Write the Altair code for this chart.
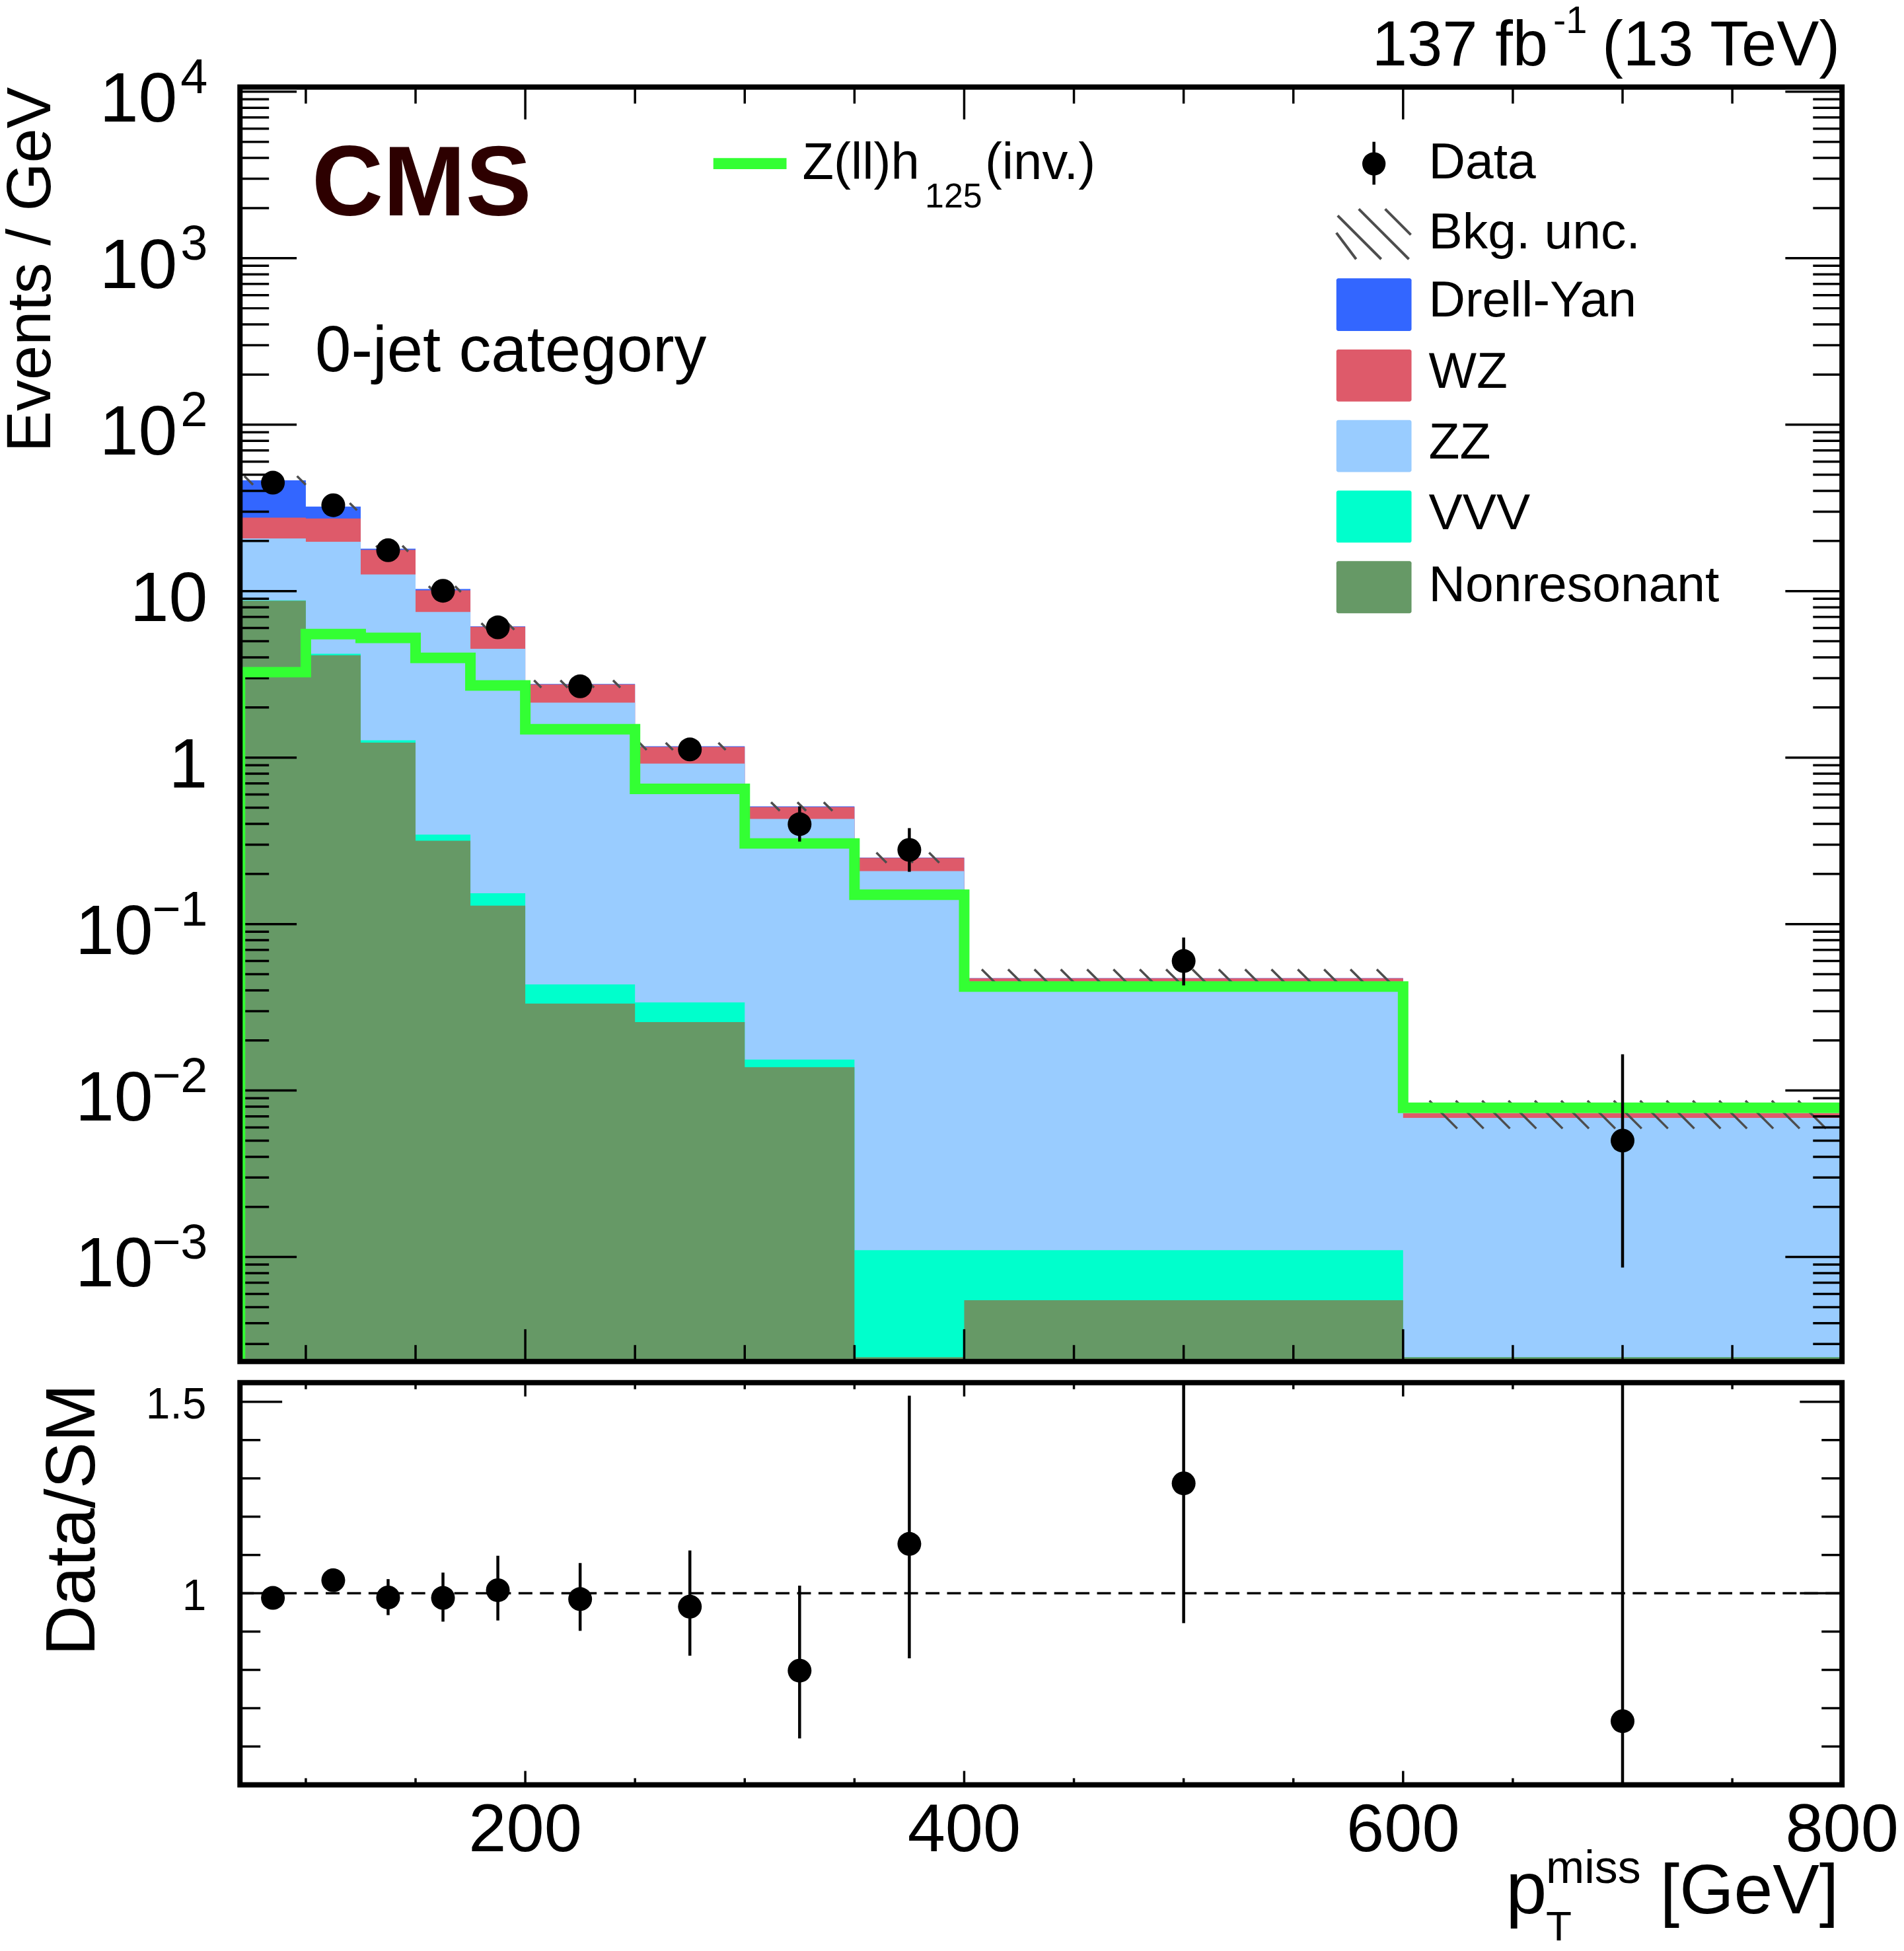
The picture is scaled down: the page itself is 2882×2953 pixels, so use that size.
import altair as alt
import numpy as np
import pandas as pd

# ---------------- values (events / GeV) ----------------
bin_edges = [70, 100, 125, 150, 175, 200, 250, 300, 350, 400, 600, 800]

nonres    = [8.75, 4.12, 1.23, 0.317, 0.129, 0.0333, 0.0258, 0.0138, 0.00025, 0.00055, 0.00025]
vvv       = [0.05, 0.09, 0.04, 0.028, 0.024, 0.0101, 0.0080, 0.00155, 0.00085, 0.00055, 0.0]
zz        = [11.9, 15.59, 11.33, 7.155, 4.347, 2.097, 0.886, 0.4126, 0.2069, 0.0440, 0.0066]
wz        = [6.9, 7.5, 5.1, 2.6, 1.6, 0.61, 0.24, 0.077, 0.042, 0.0021, 0.00045]
drell_yan = [18.7, 4.9, 0.3, 0.2, 0.04, 0.02, 0.01, 0.004, 0.001, 0.0001, 0.0]
bkg_unc_rel = [0.06, 0.05, 0.04, 0.04, 0.045, 0.05, 0.05, 0.06, 0.07, 0.13, 0.19]
signal = [3.26, 5.52, 5.24, 3.97, 2.71, 1.48, 0.649, 0.305, 0.150, 0.0421, 0.00787]

data_val = [44.8, 32.8, 17.6, 10.05, 6.06, 2.68, 1.12, 0.398, 0.279, 0.0600, 0.00500]
data_lo  = [43.3, 31.6, 16.8, 9.4, 5.6, 2.47, 0.98, 0.313, 0.206, 0.0428, 0.000864]
data_hi  = [46.3, 34.0, 18.4, 10.7, 6.6, 2.90, 1.27, 0.509, 0.377, 0.0830, 0.0165]

ratio_val = [0.988, 1.034, 0.989, 0.988, 1.008, 0.985, 0.965, 0.798, 1.129, 1.287, 0.666]
ratio_lo  = [0.960, 1.006, 0.943, 0.926, 0.929, 0.902, 0.837, 0.621, 0.830, 0.922, 0.12]
ratio_hi  = [1.016, 1.062, 1.037, 1.054, 1.098, 1.079, 1.112, 1.020, 1.516, 1.75, 2.26]

y_tick_values = [1e4, 1e3, 1e2, 10, 1, 0.1, 0.01, 0.001]
y_tick_base   = ["10", "10", "10", "10", "1", "10", "10", "10"]
y_tick_exp    = ["4", "3", "2", "", "", "\u22121", "\u22122", "\u22123"]
ratio_tick_values = [1.5, 1.0]
ratio_tick_labels = ["1.5", "1"]
x_tick_values = [200, 400, 600, 800]
x_tick_labels = ["200", "400", "600", "800"]

legend_labels = ["Drell-Yan", "WZ", "ZZ", "VVV", "Nonresonant"]
C_DY, C_WZ, C_ZZ, C_VVV, C_NR = "#3366ff", "#de5a6a", "#99ccff", "#00ffcc", "#669966"
legend_colors = [C_DY, C_WZ, C_ZZ, C_VVV, C_NR]
C_SIG = "#33ff33"
C_HATCH = "#4d4d4d"

# ---------------- layout ----------------
W, H_TOP, R_TOP, R_BOT = 2430, 1933, 1965, 2575
X_MIN, X_MAX = 70, 800
Y_MIN, Y_MAX = 2.356e-4, 1.066e4
R_MIN, R_MAX = 0.5, 1.55
FONT = "Liberation Sans"

xs = alt.Scale(domain=[X_MIN, X_MAX], nice=False, zero=False)
ys = alt.Scale(type="log", domain=[Y_MIN, Y_MAX], range=[H_TOP, 0], nice=False)
rs = alt.Scale(domain=[R_MIN, R_MAX], range=[R_BOT, R_TOP], nice=False, zero=False)

ONE = alt.Data(values=[{"a": 1}])


def vrule(x1, x2, y1, y2, color="black", width=3.5):
    return alt.Chart(ONE).mark_rule(color=color, strokeWidth=width, strokeCap="butt").encode(
        x=alt.value(x1), x2=alt.value(x2), y=alt.value(y1), y2=alt.value(y2))


def vtext(s, x, y, size, align="left", angle=0, weight="normal", color="black"):
    kw = dict(text=s, fontSize=size, font=FONT, align=align, baseline="alphabetic",
              color=color, fontWeight=weight)
    if angle:
        kw["angle"] = angle
    return alt.Chart(ONE).mark_text(**kw).encode(x=alt.value(x), y=alt.value(y))


centers = [(a + b) / 2 for a, b in zip(bin_edges[:-1], bin_edges[1:])]

# ---------------- top panel ----------------
comps = np.array([nonres, vvv, zz, wz, drell_yan])
cum = np.cumsum(comps, axis=0)
total = cum[4]
levels = [(cum[4], C_DY), (cum[3], C_WZ), (cum[2], C_ZZ), (cum[1], C_VVV), (cum[0], C_NR)]

top_layers = []
for vals, col in levels:
    df = pd.DataFrame({"x": bin_edges, "y": list(vals) + [vals[-1]], "floor": Y_MIN})
    top_layers.append(
        alt.Chart(df).mark_area(interpolate="step-after", color=col, clip=True, opacity=1).encode(
            x=alt.X("x:Q", scale=xs, axis=None),
            y=alt.Y("y:Q", scale=ys, axis=None),
            y2=alt.Y2("floor:Q")))

# hatched background-uncertainty band
decade_px = H_TOP / np.log10(Y_MAX / Y_MIN)
px_per_gev = W / (X_MAX - X_MIN)
spacing = 12.0
hatch = []
for i in range(len(total)):
    hi = total[i] * (1 + bkg_unc_rel[i])
    lo = total[i] * (1 - bkg_unc_rel[i])
    dx = (np.log10(hi) - np.log10(lo)) * decade_px / px_per_gev
    xx = np.ceil((bin_edges[i] + 1) / spacing) * spacing
    while xx + dx <= bin_edges[i + 1]:
        hatch.append({"x1": xx, "x2": xx + dx, "y1": hi, "y2": lo})
        xx += spacing
hatch_df = pd.DataFrame(hatch)
top_layers.append(
    alt.Chart(hatch_df).mark_rule(color=C_HATCH, strokeWidth=3.5, clip=True).encode(
        x=alt.X("x1:Q", scale=xs, axis=None), x2="x2:Q",
        y=alt.Y("y1:Q", scale=ys, axis=None), y2="y2:Q"))

# y ticks (log)
y_major = [10.0 ** k for k in range(-3, 5)]
y_minor = [m * 10.0 ** k for k in range(-4, 4) for m in range(2, 10) if Y_MIN <= m * 10.0 ** k <= Y_MAX]


def yticks(vals, scale, length, side):
    df = pd.DataFrame({"v": vals})
    x1, x2 = (0, length) if side == "left" else (W - length, W)
    return alt.Chart(df).mark_rule(color="black", strokeWidth=3.5).encode(
        y=alt.Y("v:Q", scale=scale, axis=None), x=alt.value(x1), x2=alt.value(x2))


for side in ("left", "right"):
    top_layers.append(yticks(y_major, ys, 86, side))
    top_layers.append(yticks(y_minor, ys, 44, side))

# y tick labels with superscripts
tl = pd.DataFrame({"v": y_tick_values, "base": y_tick_base, "exp": y_tick_exp})
tl["kind"] = ["neg" if e.startswith("\u2212") else ("pos" if e else "none") for e in y_tick_exp]
for kind, xpos in (("pos", -95), ("neg", -132), ("none", -49)):
    top_layers.append(
        alt.Chart(tl).transform_filter(alt.datum.kind == kind).mark_text(
            font=FONT, fontSize=106, align="right", baseline="alphabetic", dy=45).encode(
            y=alt.Y("v:Q", scale=ys, axis=None), x=alt.value(xpos), text="base:N"))
top_layers.append(
    alt.Chart(tl).transform_filter(alt.datum.exp != "").mark_text(
        font=FONT, fontSize=74, align="right", baseline="alphabetic", dy=2).encode(
        y=alt.Y("v:Q", scale=ys, axis=None), x=alt.value(-49), text="exp:N"))

# signal step line
sig_df = pd.DataFrame({
    "i": list(range(len(bin_edges) + 1)),
    "x": [bin_edges[0]] + bin_edges,
    "y": [Y_MIN] + signal + [signal[-1]],
})
top_layers.append(
    alt.Chart(sig_df).mark_line(interpolate="step-after", color=C_SIG, strokeWidth=16,
                                clip=True, strokeJoin="miter", strokeCap="butt").encode(
        x=alt.X("x:Q", scale=xs, axis=None), y=alt.Y("y:Q", scale=ys, axis=None), order="i:Q"))

# data points
data_df = pd.DataFrame({"x": centers, "y": data_val, "lo": data_lo, "hi": data_hi})
top_layers.append(
    alt.Chart(data_df).mark_rule(color="black", strokeWidth=4.5).encode(
        x=alt.X("x:Q", scale=xs, axis=None), y=alt.Y("lo:Q", scale=ys, axis=None), y2="hi:Q"))
top_layers.append(
    alt.Chart(data_df).mark_point(shape="circle", filled=True, size=1300, color="black", opacity=1).encode(
        x=alt.X("x:Q", scale=xs, axis=None), y=alt.Y("y:Q", scale=ys, axis=None)))

top = alt.layer(*top_layers)

# ---------------- ratio panel ----------------
ratio_layers = []
r_major = [1.0, 1.5]
r_minor = [0.6, 0.7, 0.8, 0.9, 1.1, 1.2, 1.3, 1.4]
for side in ("left", "right"):
    ratio_layers.append(yticks(r_major, rs, 64, side))
    ratio_layers.append(yticks(r_minor, rs, 31, side))

ratio_layers.append(
    alt.Chart(pd.DataFrame({"r": [1.0]})).mark_rule(color="black", strokeWidth=3.5, strokeDash=[21, 11.5]).encode(
        y=alt.Y("r:Q", scale=rs, axis=None), x=alt.value(0), x2=alt.value(W)))

ratio_df = pd.DataFrame({"x": centers, "r": ratio_val, "lo": ratio_lo, "hi": ratio_hi})
ratio_layers.append(
    alt.Chart(ratio_df).transform_calculate(
        rlo=f"max(datum.lo, {R_MIN})", rhi=f"min(datum.hi, {R_MAX})").mark_rule(
        color="black", strokeWidth=4.5).encode(
        x=alt.X("x:Q", scale=xs, axis=None), y=alt.Y("rlo:Q", scale=rs, axis=None), y2="rhi:Q"))
ratio_layers.append(
    alt.Chart(ratio_df).mark_point(shape="circle", filled=True, size=1300, color="black", opacity=1).encode(
        x=alt.X("x:Q", scale=xs, axis=None), y=alt.Y("r:Q", scale=rs, axis=None)))

rl = pd.DataFrame({"v": ratio_tick_values, "t": ratio_tick_labels})
ratio_layers.append(
    alt.Chart(rl).mark_text(font=FONT, fontSize=66, align="right", baseline="alphabetic", dy=25).encode(
        y=alt.Y("v:Q", scale=rs, axis=None), x=alt.value(-51), text="t:N"))

ratio = alt.layer(*ratio_layers)

# ---------------- shared decorations ----------------
other = []
x_major = [200, 400, 600, 800]
x_minor = [100, 150, 250, 300, 350, 450, 500, 550, 650, 700, 750]


def xticks(vals, y1, y2):
    df = pd.DataFrame({"v": vals})
    return alt.Chart(df).mark_rule(color="black", strokeWidth=3.5).encode(
        x=alt.X("v:Q", scale=xs, axis=None), y=alt.value(y1), y2=alt.value(y2))


other += [xticks(x_major, 0, 49), xticks(x_minor, 0, 25),
          xticks(x_major, H_TOP - 49, H_TOP), xticks(x_minor, H_TOP - 25, H_TOP),
          xticks(x_major, R_TOP, R_TOP + 21), xticks(x_minor, R_TOP, R_TOP + 10),
          xticks(x_major, R_BOT - 21, R_BOT), xticks(x_minor, R_BOT - 10, R_BOT)]

for y1, y2 in ((0, H_TOP), (R_TOP, R_BOT)):
    other.append(alt.Chart(ONE).mark_rect(fillOpacity=0, stroke="black", strokeWidth=8).encode(
        x=alt.value(0), x2=alt.value(W), y=alt.value(y1), y2=alt.value(y2)))

xl = pd.DataFrame({"v": x_tick_values, "t": x_tick_labels})
other.append(alt.Chart(xl).mark_text(font=FONT, fontSize=103, align="center", baseline="alphabetic").encode(
    x=alt.X("v:Q", scale=xs, axis=None), y=alt.value(2676), text="t:N"))

# axis titles
other.append(vtext("Events / GeV", -288, 0, 94, align="right", angle=270))
other.append(vtext("Data/SM", -221, R_TOP + 2, 106, align="right", angle=270))
other.append(vtext("p", 1920, 2770, 112))
other.append(vtext("miss", 1981, 2724, 70))
other.append(vtext("T", 1981, 2811, 64))
other.append(vtext("[GeV]", 2425, 2770, 106, align="right"))

# header texts
other.append(vtext("137 fb", 1984, -33, 96, align="right"))
other.append(vtext("-1", 1992, -82, 58))
other.append(vtext("(13 TeV)", 2427, -33, 96, align="right"))
other.append(vtext("CMS", 109, 195, 150, weight="bold", color="#2d0000"))
other.append(vtext("0-jet category", 114, 431, 98))

# legend: signal
other.append(vrule(718, 829, 116, 116, color=C_SIG, width=16.7))
other.append(vtext("Z(ll)h", 853, 139, 78))
other.append(vtext("125", 1039, 183, 52))
other.append(vtext("(inv.)", 1130, 139, 78))

# legend: data
other.append(vrule(1720, 1720, 83, 148, width=4.5))
other.append(alt.Chart(ONE).mark_point(shape="circle", filled=True, size=1250, color="black", opacity=1).encode(
    x=alt.value(1720), y=alt.value(116.5)))
other.append(vtext("Data", 1803, 138, 77))

# legend: bkg unc hatch icon
for (a, b, c, d) in ((1663, 221, 1693, 261), (1665, 195, 1731, 261), (1697, 185, 1773, 261), (1737, 185, 1776, 224)):
    other.append(vrule(a, c, b, d, color=C_HATCH, width=4))
other.append(vtext("Bkg. unc.", 1803, 245, 77))

# legend: stack components
leg_rect_y = [(290, 370), (398, 477), (505, 584), (612, 691), (719, 798)]
leg_text_y = [348, 456, 563, 671, 780]
for lab, col, (r1, r2), ty in zip(legend_labels, legend_colors, leg_rect_y, leg_text_y):
    other.append(alt.Chart(ONE).mark_rect(color=col, cornerRadius=3).encode(
        x=alt.value(1663), x2=alt.value(1777), y=alt.value(r1), y2=alt.value(r2)))
    other.append(vtext(lab, 1803, ty, 77))

chart = alt.layer(top, ratio, *other).resolve_scale(y="independent").properties(
    width=W, height=R_BOT, background="white",
    padding={"left": 356, "top": 121, "right": 86, "bottom": 240},
    autosize=alt.AutoSizeParams(type="none"),
).configure_view(stroke="transparent")

chart.save("out.html", embed_options={"renderer": "svg", "actions": False})
